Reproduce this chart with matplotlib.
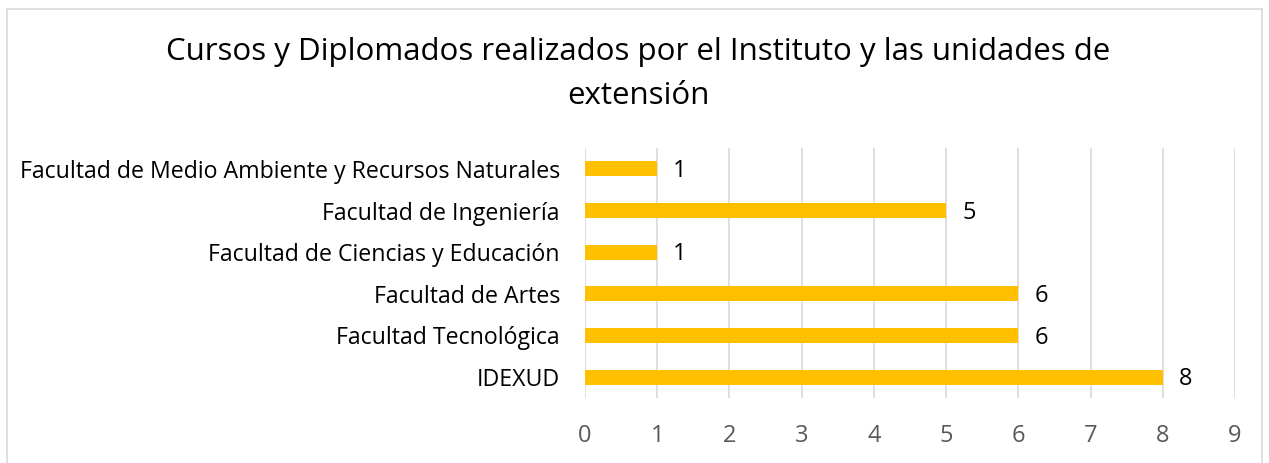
import matplotlib
matplotlib.use("Agg")
import matplotlib.pyplot as plt
from matplotlib.patches import Rectangle

categories = ["IDEXUD", "Facultad Tecnológica", "Facultad de Artes",
              "Facultad de Ciencias y Educación", "Facultad de Ingeniería",
              "Facultad de Medio Ambiente y Recursos Naturales"]
values = [8, 6, 6, 1, 5, 1]
xticks = list(range(0, 10))
title = "Cursos y Diplomados realizados por el Instituto y las unidades de\nextensión"

plt.rcParams['font.family'] = ['Open Sans', 'DejaVu Sans']

W, H = 1269, 463
fig = plt.figure(figsize=(W/100, H/100), dpi=100)
fig.patch.set_facecolor('white')
fig.patches.append(Rectangle((7/W, -0.01), (1262-7)/W, 1 - 9/H + 0.01,
                             transform=fig.transFigure, fill=False,
                             edgecolor='#d9d9d9', linewidth=1.2))

x0, x1 = 585, 1235
y_top, y_bot = 148, 398
ax = fig.add_axes([x0/W, 1 - y_bot/H, (x1-x0)/W, (y_bot-y_top)/H])
ypos = list(range(len(categories)))
ax.barh(ypos, values, height=0.36, color='#FFC000', zorder=3)
for y, v in zip(ypos, values):
    ax.text(v + 0.22, y - 0.05, str(v), va='center', ha='left', fontsize=17,
            color='#000000')
ax.set_xlim(0, 9)
ax.set_ylim(-0.5, len(categories) - 0.5)
ax.set_xticks(xticks)
ax.set_xticklabels([str(t) for t in xticks], fontsize=17, color='#595959')
ax.set_yticks(ypos)
ax.set_yticklabels(categories, fontsize=16.7, color='#000000')
ax.tick_params(axis='y', length=0, pad=18)
ax.tick_params(axis='x', length=0, pad=19)
ax.grid(axis='x', color='#d9d9d9', linewidth=1.2, zorder=0)
for s in ax.spines.values():
    s.set_visible(False)
fig.text((163+1113)/2/W, 1 - 37/H, title, ha='center', va='top', fontsize=22.5,
         color='#000000', linespacing=1.6)
fig.savefig("out.png", dpi=100)
